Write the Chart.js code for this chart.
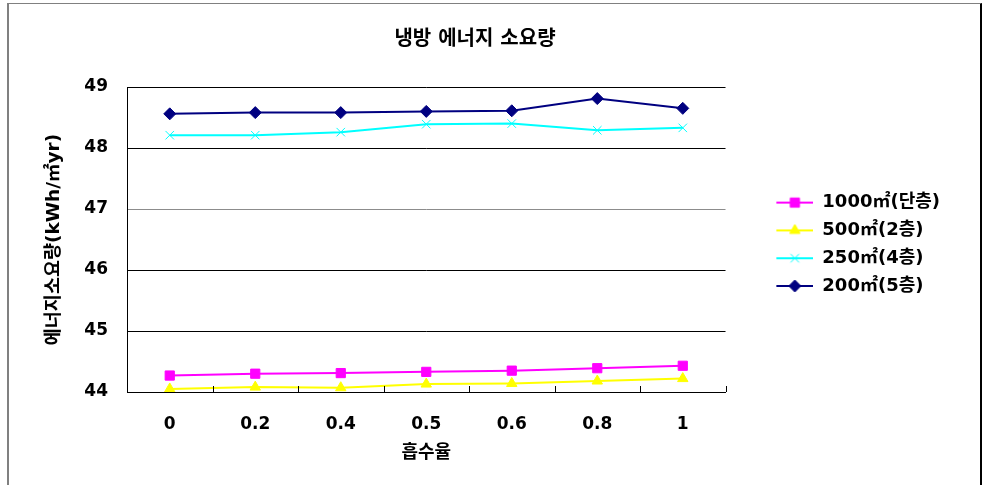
<!DOCTYPE html>
<html lang="ko">
<head>
<meta charset="utf-8">
<title>냉방 에너지 소요량</title>
<script src="https://cdn.jsdelivr.net/npm/chart.js@4/dist/chart.umd.min.js"></script>
<style>
    html, body { margin: 0; padding: 0; background: #fff; overflow: hidden; }
    #wrap { position: relative; width: 988px; height: 485px; }
    #frame {
        position: absolute; left: 7px; top: 3px; width: 975px; height: 600px;
        box-sizing: border-box; pointer-events: none;
        border-left: 2px solid #808080; border-top: 1px solid #808080; border-right: 2px solid #000;
    }
</style>
</head>
<body>
<div id="wrap">
    <canvas id="energyChart" width="988" height="485"></canvas>
    <div id="frame"></div>
</div>
<script>
// Data
const categories = ['0', '0.2', '0.4', '0.5', '0.6', '0.8', '1'];
const seriesLabels = ['1000㎡(단층)', '500㎡(2층)', '250㎡(4층)', '200㎡(5층)'];
const values1000 = [44.27, 44.30, 44.31, 44.33, 44.35, 44.39, 44.43];
const values500 = [44.05, 44.08, 44.07, 44.13, 44.14, 44.18, 44.22];
const values250 = [48.21, 48.21, 48.26, 48.39, 48.40, 48.29, 48.33];
const values200 = [48.56, 48.58, 48.58, 48.60, 48.61, 48.81, 48.65];
const yTicks = [44, 45, 46, 47, 48, 49];

const FONT = "'DejaVu Sans', 'Noto Sans CJK KR', sans-serif";

const styles = [
    { color: '#FF00FF', point: 'rect', radius: 6.5 },
    { color: '#FFFF00', point: 'triangle', radius: 6 },
    { color: '#00FFFF', point: 'crossRot', radius: 6 },
    { color: '#000080', point: 'rectRot', radius: 6 }
];

function makeDataset(label, data, st) {
    return {
        label: label,
        data: data,
        borderColor: st.color,
        backgroundColor: st.color,
        borderWidth: 2,
        tension: 0,
        fill: false,
        pointStyle: st.point,
        pointRadius: st.radius,
        pointHoverRadius: st.radius,
        pointBorderWidth: 1,
        pointBackgroundColor: st.color,
        pointBorderColor: st.color
    };
}

// Legend symbol: short line with the marker in the middle (left part kept blank as spacing)
function legendIcon(st) {
    const c = document.createElement('canvas');
    c.width = 78;
    c.height = 16;
    const g = c.getContext('2d');
    g.strokeStyle = st.color;
    g.fillStyle = st.color;
    g.lineWidth = 2;
    g.beginPath();
    g.moveTo(41, 8);
    g.lineTo(78, 8);
    g.stroke();
    g.lineWidth = 1;
    Chart.helpers.drawPoint(g, { pointStyle: st.point, radius: st.radius, borderWidth: 1, rotation: 0 }, 59.5, 8);
    return c;
}

// Small tick marks pointing into the plot at the category boundaries
const innerTicks = {
    id: 'innerTicks',
    afterDraw(chart) {
        const xs = chart.scales.x;
        const c = chart.ctx;
        const y = chart.chartArea.bottom;
        c.save();
        c.strokeStyle = '#000';
        c.lineWidth = 1;
        c.beginPath();
        for (let i = 0; i <= categories.length; i++) {
            const x = Math.round(xs.getPixelForValue(i - 0.5)) + 0.5;
            c.moveTo(x, y);
            c.lineTo(x, y - 6);
        }
        c.stroke();
        c.restore();
    }
};

function initEnergyChart() {
    const ctx = document.getElementById('energyChart');
    if (!ctx) return;

    const seriesData = [values1000, values500, values250, values200];

    new Chart(ctx, {
        type: 'line',
        data: {
            labels: categories,
            datasets: seriesData.map((d, i) => makeDataset(seriesLabels[i], d, styles[i]))
        },
        plugins: [innerTicks],
        options: {
            responsive: false,
            animation: false,
            devicePixelRatio: 1,
            layout: { padding: { left: 0, right: 38, top: 0, bottom: 21 } },
            font: { family: FONT, weight: 'bold' },
            plugins: {
                title: {
                    display: true,
                    text: '냉방 에너지 소요량',
                    color: '#000',
                    font: { family: FONT, size: 20, weight: 'bold' },
                    padding: { top: 28, bottom: 35 }
                },
                legend: {
                    display: true,
                    position: 'right',
                    fullSize: false,
                    title: { display: true, text: '', padding: 0, font: { size: 8 } },
                    labels: {
                        usePointStyle: true,
                        pointStyleWidth: 78,
                        padding: 9.8,
                        color: '#000',
                        font: { family: FONT, size: 18, weight: 'bold' },
                        generateLabels: (chart) => chart.data.datasets.map((ds, i) => ({
                            text: ds.label,
                            pointStyle: legendIcon(styles[i]),
                            fillStyle: styles[i].color,
                            strokeStyle: styles[i].color,
                            lineWidth: 0,
                            hidden: false,
                            datasetIndex: i,
                            fontColor: '#000'
                        }))
                    }
                },
                tooltip: { enabled: false }
            },
            scales: {
                x: {
                    offset: true,
                    afterFit: (scale) => { scale.height = 72; },
                    grid: {
                        offset: true,
                        display: false,
                        drawTicks: false
                    },
                    border: { display: true, color: '#000', width: 1 },
                    ticks: {
                        color: '#000',
                        padding: 22,
                        maxRotation: 0,
                        font: { family: FONT, size: 17, weight: 'bold' }
                    },
                    title: {
                        display: true,
                        text: '흡수율',
                        color: '#000',
                        font: { family: FONT, size: 18, weight: 'bold' },
                        padding: { top: 0, bottom: 0 }
                    }
                },
                y: {
                    min: yTicks[0],
                    max: yTicks[yTicks.length - 1],
                    afterBuildTicks: (axis) => { axis.ticks = yTicks.map(v => ({ value: v })); },
                    afterFit: (scale) => { scale.width = 127; },
                    grid: {
                        drawTicks: false,
                        color: (c) => (c.tick && c.tick.value === 47 ? '#8c8c8c' : '#000'),
                        lineWidth: 1
                    },
                    border: { display: true, color: '#000', width: 1 },
                    ticks: {
                        color: '#000',
                        padding: 19,
                        font: { family: FONT, size: 17, weight: 'bold' }
                    },
                    title: {
                        display: true,
                        text: '에너지소요량(kWh/㎡yr)',
                        color: '#000',
                        font: { family: FONT, size: 18.5, weight: 'bold' },
                        padding: { top: 43, bottom: 0 }
                    }
                }
            }
        }
    });
}

document.addEventListener('DOMContentLoaded', () => {
    initEnergyChart();
});
</script>
</body>
</html>
